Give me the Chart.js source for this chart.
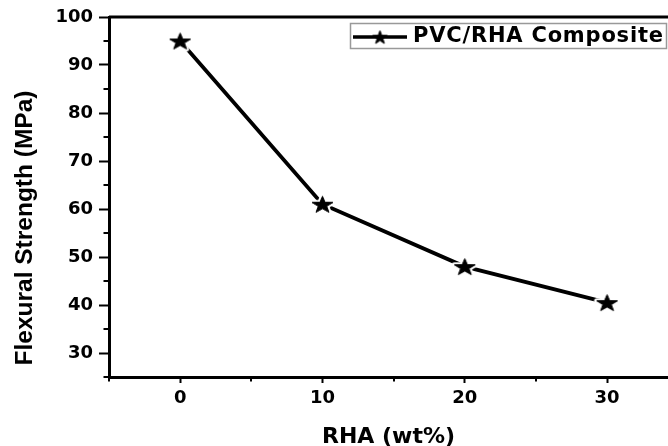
<!DOCTYPE html>
<html>
<head>
<meta charset="utf-8">
<script src="https://cdn.jsdelivr.net/npm/chart.js@4.4.1/dist/chart.umd.min.js"></script>
<style>
  html, body { margin: 0; padding: 0; background: #fff; overflow: hidden; }
  canvas { display: block; }
</style>
</head>
<body>
<canvas id="c" width="668" height="446"></canvas>
<script>
// ---- data ----
const rhaContent = [0, 10, 20, 30];            // RHA (wt%)
const flexuralStrength = [95, 61, 48, 40.5];    // MPa
const seriesLabel = 'PVC/RHA Composite';
const xTitle = 'RHA (wt%)';
const yTitle = 'Flexural Strength (MPa)';
const yTickLabels = [30, 40, 50, 60, 70, 80, 90, 100];
const xTickLabels = [0, 10, 20, 30];

// ---- star marker image ----
function makeStar(R, sy, halo) {
  const w = Math.ceil(2 * R + 2 * halo + 4);
  const h = Math.ceil(2 * R * sy + 2 * halo + 4);
  const cv = document.createElement('canvas');
  cv.width = w; cv.height = h;
  const c = cv.getContext('2d');
  const cx = w / 2, cy = h / 2 + R * sy * 0.1;
  const r = R * 0.40;
  c.beginPath();
  for (let i = 0; i < 10; i++) {
    const a = -Math.PI / 2 + i * Math.PI / 5;
    const rad = i % 2 === 0 ? R : r;
    const px = cx + rad * Math.cos(a);
    const py = cy + rad * Math.sin(a) * sy;
    if (i === 0) c.moveTo(px, py); else c.lineTo(px, py);
  }
  c.closePath();
  if (halo > 0) {
    c.lineJoin = 'round';
    c.strokeStyle = '#fff';
    c.lineWidth = halo * 2;
    c.stroke();
  }
  c.fillStyle = '#000';
  c.fill();
  c.lineWidth = 1;
  c.strokeStyle = '#000';
  c.lineJoin = 'miter';
  c.stroke();
  return cv;
}
const starData = makeStar(11, 0.8, 2.5);
const starLegend = makeStar(7.5, 0.95, 0);

const TICK_FONT = { family: '"DejaVu Sans", sans-serif', size: 18, weight: 'bold' };

const decorPlugin = {
  id: 'decor',
  afterDraw(chart) {
    const { ctx, chartArea } = chart;
    const xs = chart.scales.x, ys = chart.scales.y;
    ctx.save();
    // top frame line
    ctx.strokeStyle = '#000';
    ctx.lineWidth = 3;
    ctx.beginPath();
    ctx.moveTo(chartArea.left, chartArea.top);
    ctx.lineTo(chartArea.right, chartArea.top);
    ctx.stroke();
    // minor ticks
    ctx.lineWidth = 2;
    ys.ticks.forEach(t => {
      if (t.value % 10 !== 0) {
        const y = Math.round(ys.getPixelForValue(t.value));
        ctx.beginPath();
        ctx.moveTo(chartArea.left - 5.5, y);
        ctx.lineTo(chartArea.left, y);
        ctx.stroke();
      }
    });
    xs.ticks.forEach(t => {
      if (t.value % 10 !== 0) {
        const x = Math.round(xs.getPixelForValue(t.value));
        ctx.beginPath();
        ctx.moveTo(x, chartArea.bottom);
        ctx.lineTo(x, chartArea.bottom + 4.5);
        ctx.stroke();
      }
    });
    // y title
    ctx.save();
    ctx.translate(25, 228);
    ctx.rotate(-Math.PI / 2);
    ctx.fillStyle = '#000';
    ctx.font = 'bold 24.5px "Liberation Sans", Arial, sans-serif';
    ctx.textAlign = 'center';
    ctx.textBaseline = 'middle';
    ctx.fillText(yTitle, 0, 0);
    ctx.restore();
    // legend
    const lx = 350.5, ly = 23.5, lw = 316, lh = 25;
    ctx.fillStyle = '#fff';
    ctx.fillRect(lx, ly, lw, lh);
    ctx.strokeStyle = '#999';
    ctx.lineWidth = 1.5;
    ctx.strokeRect(lx, ly, lw, lh);
    const cy = 37;
    ctx.strokeStyle = '#000';
    ctx.lineWidth = 3.6;
    ctx.beginPath();
    ctx.moveTo(353, cy);
    ctx.lineTo(407, cy);
    ctx.stroke();
    ctx.drawImage(starLegend, 380 - starLegend.width / 2, cy - starLegend.height / 2);
    ctx.fillStyle = '#000';
    ctx.font = 'bold 21px "DejaVu Sans", sans-serif';
    ctx.textAlign = 'left';
    ctx.textBaseline = 'middle';
    try { ctx.letterSpacing = '0.8px'; } catch (e) {}
    ctx.fillText(chart.data.datasets[0].label, 413, cy);
    try { ctx.letterSpacing = '0px'; } catch (e) {}
    ctx.restore();
  }
};

new Chart(document.getElementById('c'), {
  type: 'line',
  data: {
    datasets: [{
      label: seriesLabel,
      data: rhaContent.map((x, i) => ({ x: x, y: flexuralStrength[i] })),
      borderColor: '#000',
      backgroundColor: '#000',
      borderWidth: 3.8,
      tension: 0,
      pointStyle: starData,
      pointRadius: 10,
      fill: false
    }]
  },
  options: {
    responsive: false,
    animation: false,
    devicePixelRatio: 1,
    events: [],
    layout: { autoPadding: false, padding: { top: 17, right: 0, bottom: 0, left: 0 } },
    plugins: {
      legend: { display: false },
      tooltip: { enabled: false }
    },
    scales: {
      x: {
        type: 'linear',
        position: 'bottom',
        min: -5,
        max: 34.28,
        afterFit(s) { s.height = 69; },
        ticks: {
          stepSize: 5,
          includeBounds: false,
          maxRotation: 0,
          autoSkip: false,
          padding: 5,
          color: '#000',
          font: TICK_FONT,
          callback: v => xTickLabels.includes(v) ? String(v) : ''
        },
        grid: {
          drawOnChartArea: false,
          drawTicks: true,
          tickLength: 6,
          tickWidth: 2,
          tickColor: c => (c.tick && c.tick.value % 10 === 0) ? '#000' : 'rgba(0,0,0,0)'
        },
        border: { display: true, color: '#000', width: 3 },
        title: {
          display: true,
          text: xTitle,
          color: '#000',
          font: { family: '"DejaVu Sans", sans-serif', size: 22, weight: 'bold', lineHeight: 0.75 },
          padding: { top: 0, bottom: 0 }
        }
      },
      y: {
        type: 'linear',
        position: 'left',
        min: 25,
        max: 100,
        afterFit(s) { s.width = 109; },
        ticks: {
          stepSize: 5,
          autoSkip: false,
          padding: 6,
          color: '#000',
          font: TICK_FONT,
          callback: v => yTickLabels.includes(v) ? String(v) : ''
        },
        grid: {
          drawOnChartArea: false,
          drawTicks: true,
          tickLength: 10,
          tickWidth: 2,
          tickColor: c => (c.tick && c.tick.value % 10 === 0) ? '#000' : 'rgba(0,0,0,0)'
        },
        border: { display: true, color: '#000', width: 3 }
      }
    }
  },
  plugins: [decorPlugin]
});
</script>
</body>
</html>
